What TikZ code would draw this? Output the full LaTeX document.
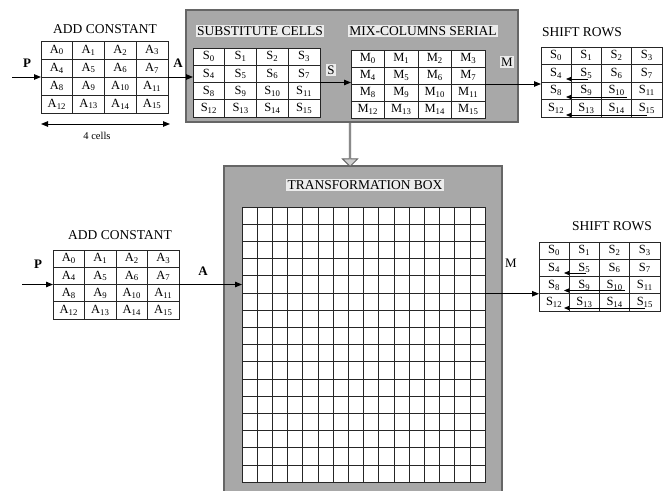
\documentclass[tikz,border=0pt]{standalone}
\usepackage{fontspec}
\setmainfont{Liberation Serif}
\usetikzlibrary{arrows.meta,calc,shapes.arrows}
\definecolor{boxgray}{HTML}{A8A8A8}
\definecolor{boxedge}{HTML}{666666}
\definecolor{tagbg}{HTML}{ECECEC}
\tikzset{
  frame/.style={draw=black!85,line width=1pt,fill=white,inner sep=0pt,outer sep=0pt},
  cellline/.style={draw=black!85,line width=0.85pt},
  cellnum/.style={font=\fontsize{12.5}{13}\selectfont,inner sep=0pt},
  title/.style={font=\fontsize{13.5}{15}\selectfont},
  tag/.style={title,fill=tagbg,inner sep=1.5pt},
  port/.style={font=\fontsize{13}{14}\selectfont\bfseries},
  panel/.style={draw=boxedge,fill=boxgray,line width=1.2pt,inner sep=0pt,outer sep=0pt},
  flow/.style={-{Triangle[length=7pt,width=5.5pt]},line width=0.9pt},
  shiftarr/.style={-{Triangle[length=5pt,width=4pt]},line width=0.8pt},
}
% 4x4 block of cells: name, left, top, cell width, cell height, letter
\newcommand{\cellgrid}[6]{%
  \node[frame,anchor=north west,minimum width=4*#4,minimum height=4*#5] (#1) at (#2,#3) {};
  \foreach \k in {1,2,3}{
    \draw[cellline] ($(#1.north west)+(\k*#4,0)$) -- ($(#1.south west)+(\k*#4,0)$);
    \draw[cellline] ($(#1.north west)+(0,\k*#5)$) -- ($(#1.north east)+(0,\k*#5)$);
  }
  \foreach \row in {0,...,3}{\foreach \col in {0,...,3}{
    \pgfmathtruncatemacro{\idx}{4*\row+\col}
    \node[cellnum] (#1-\idx) at ($(#1.north west)+({(\col+0.5)*#4},{(\row+0.5)*#5})$) {#6\textsubscript{\idx}};
  }}
}
\begin{document}
\begin{tikzpicture}[x=1pt,y=-1pt]
\useasboundingbox (0,0) rectangle (666,490);
% upper row: serial round
\node[title] (actitleT) at (105,29) {ADD CONSTANT};
\cellgrid{acT}{41}{41}{31.75}{18}{A}
\node[panel,anchor=north west,minimum width=332,minimum height=112] (roundbox) at (186,10) {};
\node[tag] (subtag) at (260,31) {SUBSTITUTE CELLS};
\node[tag] (mixtag) at (423,31) {MIX-COLUMNS SERIAL};
\cellgrid{sT}{193}{48}{31.75}{17.25}{S}
\cellgrid{mT}{351}{50}{33.5}{17}{M}
\node[title] (srtitleT) at (582,32) {SHIFT ROWS};
\cellgrid{srT}{541}{47}{30.25}{17.5}{S}
\coordinate (pinT) at (12,77);
\node[port] (pT) at (27,63) {P};
\node[port] (aT) at (178,63) {A};
\node[tag,font=\fontsize{13}{14}\selectfont] (sT-tag) at (331,70) {S};
\node[tag,font=\fontsize{13}{14}\selectfont] (mT-tag) at (507,62) {M};
\draw[flow] (pinT) -- (acT.west);
\draw[flow] (acT.east) -- (acT.east -| sT.west);
\draw[flow] (sT.east) -- (sT.east -| mT.west);
\draw[flow] (mT.east) -- (mT.east -| srT.west);
\draw[shiftarr] ($(srT.north west)+(47,32)$) -- ($(srT.north west)+(25,32)$);
\draw[shiftarr] ($(srT.north west)+(86,50)$) -- ($(srT.north west)+(25,50)$);
\draw[shiftarr] ($(srT.north west)+(106,68)$) -- ($(srT.north west)+(25,68)$);
% width mark under first block
\draw[{Triangle[length=7pt,width=5.5pt]}-{Triangle[length=7pt,width=5.5pt]},line width=0.9pt]
  ($(acT.south west)+(0,11)$) -- ($(acT.south east)+(2,11)$);
\node[font=\fontsize{10.5}{12}\selectfont] (cellsnote) at (97,136) {4 cells};
% lower row: transformation box
\node[panel,anchor=north west,minimum width=278,minimum height=340] (tbox) at (224,166) {};
\node[single arrow,draw=boxedge,fill=boxgray!55,line width=0.9pt,rotate=-90,
  minimum width=15pt,single arrow head extend=4pt,minimum height=44pt,inner sep=0pt] (down) at (350,144) {};
\node[tag] (ttag) at (365,185) {TRANSFORMATION BOX};
\node[frame,anchor=north west,minimum width=16*15.2,minimum height=16*17.2] (tgrid) at (242,207) {};
\foreach \k in {1,...,15}{
  \draw[cellline] ($(tgrid.north west)+(\k*15.2,0)$) -- ($(tgrid.south west)+(\k*15.2,0)$);
  \draw[cellline] ($(tgrid.north west)+(0,\k*17.2)$) -- ($(tgrid.north east)+(0,\k*17.2)$);
}
\node[title] (actitleB) at (120,235) {ADD CONSTANT};
\cellgrid{acB}{53}{250}{31.5}{17.25}{A}
\node[title] (srtitleB) at (612,226) {SHIFT ROWS};
\cellgrid{srB}{539}{242}{30.25}{17.25}{S}
\coordinate (pinB) at (22,284.5);
\coordinate (mtgt) at ($(srB.south west)+(0,-17.25)$);
\node[port] (pB) at (38,264) {P};
\node[port] (aB) at (203,271) {A};
\node[font=\fontsize{13}{14}\selectfont] (mB) at (511,263) {M};
\draw[flow] (pinB) -- (acB.west);
\draw[flow] (acB.east) -- (acB.east -| tgrid.west);
\draw[flow] (mtgt -| tgrid.east) -- (mtgt);
\draw[shiftarr] ($(srB.north west)+(47,31)$) -- ($(srB.north west)+(25,31)$);
\draw[shiftarr] ($(srB.north west)+(86,48.5)$) -- ($(srB.north west)+(25,48.5)$);
\draw[shiftarr] ($(srB.north west)+(106,66)$) -- ($(srB.north west)+(25,66)$);
\end{tikzpicture}
\end{document}
